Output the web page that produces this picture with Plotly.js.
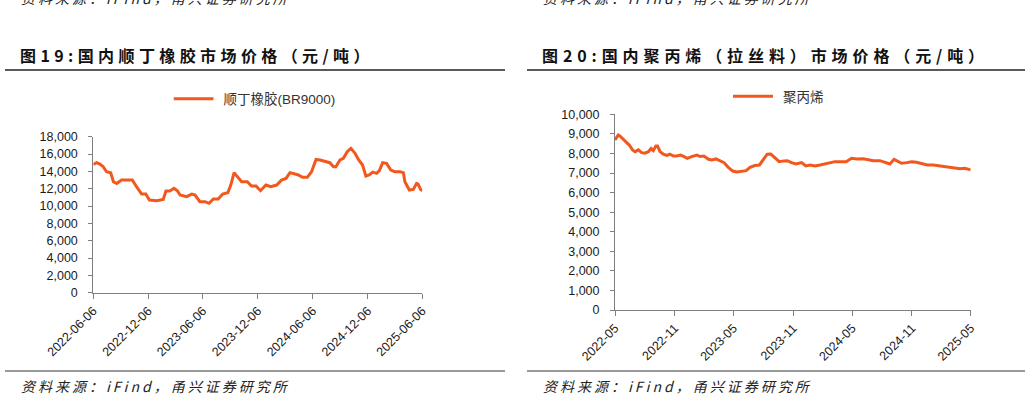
<!DOCTYPE html>
<html>
<head>
<meta charset="utf-8">
<script src="https://cdn.plot.ly/plotly-3.0.1.min.js"></script>
<style>html,body{margin:0;padding:0;background:#fff;}#chart{width:1032px;height:399px;}</style>
</head>
<body>
<div id="chart"></div>
<script>
// ---- Data: 国内顺丁橡胶市场价格 (BR9000), 元/吨 ----
const brDates = ['2022-06-06','2022-06-17','2022-06-28','2022-07-09','2022-07-20','2022-08-03','2022-08-12','2022-08-23','2022-09-08','2022-09-25','2022-10-14','2022-10-28','2022-11-14','2022-11-28','2022-12-10','2023-01-03','2023-01-25','2023-02-03','2023-02-16','2023-03-02','2023-03-13','2023-03-22','2023-04-13','2023-04-30','2023-05-11','2023-05-27','2023-06-13','2023-06-27','2023-07-11','2023-07-27','2023-08-11','2023-08-28','2023-09-07','2023-09-18','2023-09-29','2023-10-13','2023-11-01','2023-11-15','2023-11-30','2023-12-15','2024-01-02','2024-01-18','2024-02-07','2024-02-23','2024-03-09','2024-03-22','2024-04-08','2024-04-19','2024-05-03','2024-05-19','2024-06-02','2024-06-17','2024-06-30','2024-07-17','2024-08-02','2024-08-14','2024-08-22','2024-09-05','2024-09-16','2024-09-29','2024-10-11','2024-10-25','2024-11-05','2024-11-19','2024-11-30','2024-12-11','2024-12-23','2025-01-05','2025-01-14','2025-01-25','2025-02-07','2025-02-21','2025-03-07','2025-03-24','2025-04-04','2025-04-09','2025-04-24','2025-05-07','2025-05-18','2025-05-23','2025-05-31','2025-06-06'];
const brValues = [14800,15000,14850,14540,13960,13850,12800,12600,13000,13000,13000,12230,11380,11380,10700,10620,10770,11730,11730,12040,11770,11270,11080,11380,11270,10500,10500,10310,10810,10810,11380,11540,12420,13850,13380,12800,12800,12310,12310,11770,12420,12230,12420,13000,13190,13850,13690,13580,13310,13310,13960,15380,15310,15150,15000,14540,14540,15310,15500,16270,16650,16080,15380,14730,13460,13580,13920,13770,14080,15000,14920,14150,13960,13960,13850,12800,11850,11920,12620,12540,11920,11770];
const brTickVals = ['2022-06-06','2022-12-06','2023-06-06','2023-12-06','2024-06-06','2024-12-06','2025-06-06'];
const brTickText = ['2022-06-06','2022-12-06','2023-06-06','2023-12-06','2024-06-06','2024-12-06','2025-06-06'];

// ---- Data: 国内聚丙烯（拉丝料）市场价格, 元/吨 ----
const ppDates = ['2022-05-01','2022-05-11','2022-05-16','2022-05-27','2022-06-06','2022-06-14','2022-06-24','2022-07-02','2022-07-12','2022-07-22','2022-08-01','2022-08-12','2022-08-20','2022-08-27','2022-09-04','2022-09-09','2022-09-17','2022-09-27','2022-10-07','2022-10-17','2022-10-28','2022-11-07','2022-11-19','2022-11-30','2022-12-10','2022-12-23','2023-01-08','2023-01-18','2023-01-30','2023-02-13','2023-02-23','2023-03-08','2023-03-21','2023-04-02','2023-04-15','2023-04-29','2023-05-11','2023-05-26','2023-06-09','2023-06-21','2023-07-06','2023-07-20','2023-08-01','2023-08-13','2023-08-24','2023-09-03','2023-09-19','2023-10-04','2023-10-14','2023-10-27','2023-11-10','2023-11-27','2023-12-10','2023-12-23','2024-01-07','2024-01-23','2024-02-07','2024-02-22','2024-03-09','2024-03-24','2024-04-12','2024-04-29','2024-05-15','2024-06-04','2024-06-20','2024-07-05','2024-07-25','2024-08-10','2024-08-25','2024-09-07','2024-09-15','2024-09-30','2024-10-16','2024-10-31','2024-11-15','2024-12-01','2024-12-18','2025-01-06','2025-01-26','2025-02-16','2025-03-08','2025-03-29','2025-04-13','2025-05-01'];
const ppValues = [8690,8940,8890,8690,8550,8430,8180,8090,8180,8040,8010,8090,8250,8140,8380,8380,8090,7960,7900,7960,7870,7870,7920,7840,7750,7840,7920,7840,7870,7700,7670,7720,7630,7530,7290,7100,7050,7070,7120,7290,7380,7410,7670,7960,7970,7800,7580,7620,7630,7530,7460,7530,7360,7410,7360,7410,7460,7530,7580,7580,7580,7750,7720,7730,7670,7630,7630,7530,7460,7700,7630,7500,7530,7580,7550,7500,7410,7410,7360,7330,7290,7220,7240,7160];
const ppTickVals = ['2022-05-01','2022-11-01','2023-05-01','2023-11-01','2024-05-01','2024-11-01','2025-05-01'];
const ppTickText = ['2022-05','2022-11','2023-05','2023-11','2024-05','2024-11','2025-05'];

// ---- Texts ----
const title1 = '图19:国内顺丁橡胶市场价格（元/吨）';
const title2 = '图20:国内聚丙烯（拉丝料）市场价格（元/吨）';
const name1 = '顺丁橡胶(BR9000)';
const name2 = '聚丙烯';
const sourceText = '资料来源：iFind，甬兴证券研究所';

const W = 1032, H = 399;
const px = v => v / W;
const py = v => 1 - v / H;
const lineColor = '#F2581D';
const axisColor = '#7f7f7f';
const tickFont = {family: 'Liberation Sans, Arial, sans-serif', size: 12.5, color: '#1a1a1a'};
const cjkFont = 'Noto Sans CJK SC, sans-serif';

const traces = [
  {x: brDates, y: brValues, type: 'scatter', mode: 'lines', name: name1,
   line: {color: lineColor, width: 3}, xaxis: 'x', yaxis: 'y', legend: 'legend'},
  {x: ppDates, y: ppValues, type: 'scatter', mode: 'lines', name: name2,
   line: {color: lineColor, width: 3}, xaxis: 'x2', yaxis: 'y2', legend: 'legend2'}
];

const xCommon = {type: 'date', showgrid: false, zeroline: false, showline: true, linecolor: axisColor, linewidth: 1,
  ticks: 'outside', ticklen: 5, tickcolor: axisColor, tickangle: -45, tickfont: tickFont, tickmode: 'array'};
const yCommon = {showgrid: false, zeroline: false, showline: true, linecolor: axisColor, linewidth: 1,
  ticks: 'outside', ticklen: 4, tickcolor: axisColor, tickfont: tickFont, tickformat: ',d', ticklabelstandoff: 8};

const legendFont = {family: 'Liberation Sans, Noto Sans CJK SC, sans-serif', size: 13.5, color: '#333'};

const layout = {
  width: W, height: H,
  margin: {l: 0, r: 0, t: 0, b: 0},
  paper_bgcolor: '#fff', plot_bgcolor: '#fff',
  showlegend: true,
  xaxis: Object.assign({}, xCommon, {domain: [px(93.3), px(422.3)], range: ['2022-06-06', '2025-06-06'],
    tickvals: brTickVals, ticktext: brTickText, anchor: 'y'}),
  yaxis: Object.assign({}, yCommon, {domain: [py(292.7), py(136.7)], range: [0, 18000], dtick: 2000, anchor: 'x'}),
  xaxis2: Object.assign({}, xCommon, {domain: [px(615), px(970.7)], range: ['2022-05-01', '2025-05-01'],
    tickvals: ppTickVals, ticktext: ppTickText, anchor: 'y2'}),
  yaxis2: Object.assign({}, yCommon, {domain: [py(310), py(114.3)], range: [0, 10000], dtick: 1000, anchor: 'x2'}),
  legend: {x: px(257), y: py(99), xanchor: 'center', yanchor: 'middle', orientation: 'h', bgcolor: 'rgba(0,0,0,0)',
    itemwidth: 40, font: legendFont},
  legend2: {x: px(781), y: py(96.5), xanchor: 'center', yanchor: 'middle', orientation: 'h', bgcolor: 'rgba(0,0,0,0)',
    itemwidth: 40, font: legendFont},
  annotations: [
    {text: '<b>' + title1 + '</b>', xref: 'paper', yref: 'paper', x: px(18), y: py(55), xanchor: 'left', yanchor: 'middle',
     showarrow: false, font: {family: cjkFont, size: 16, color: '#111'}},
    {text: '<b>' + title2 + '</b>', xref: 'paper', yref: 'paper', x: px(540), y: py(55), xanchor: 'left', yanchor: 'middle',
     showarrow: false, font: {family: cjkFont, size: 16, color: '#111'}},
    {text: '<i>' + sourceText + '</i>', xref: 'paper', yref: 'paper', x: px(19), y: py(386), xanchor: 'left', yanchor: 'middle',
     showarrow: false, font: {family: cjkFont, size: 14, color: '#222'}},
    {text: '<i>' + sourceText + '</i>', xref: 'paper', yref: 'paper', x: px(541), y: py(386), xanchor: 'left', yanchor: 'middle',
     showarrow: false, font: {family: cjkFont, size: 14, color: '#222'}},
    {text: '<i>' + sourceText + '</i>', xref: 'paper', yref: 'paper', x: px(19), y: py(-2), xanchor: 'left', yanchor: 'middle',
     showarrow: false, font: {family: cjkFont, size: 14, color: '#222'}},
    {text: '<i>' + sourceText + '</i>', xref: 'paper', yref: 'paper', x: px(541), y: py(-2), xanchor: 'left', yanchor: 'middle',
     showarrow: false, font: {family: cjkFont, size: 14, color: '#222'}}
  ],
  shapes: [
    {type: 'line', xref: 'paper', yref: 'paper', x0: px(5), x1: px(505), y0: py(70), y1: py(70), line: {color: '#222', width: 1.5}},
    {type: 'line', xref: 'paper', yref: 'paper', x0: px(527), x1: px(1025), y0: py(70), y1: py(70), line: {color: '#222', width: 1.5}},
    {type: 'line', xref: 'paper', yref: 'paper', x0: px(5), x1: px(505), y0: py(371), y1: py(371), line: {color: '#777', width: 1.5}},
    {type: 'line', xref: 'paper', yref: 'paper', x0: px(527), x1: px(1025), y0: py(371), y1: py(371), line: {color: '#777', width: 1.5}}
  ]
};

Plotly.newPlot('chart', traces, layout, {displayModeBar: false, staticPlot: true}).then(gd => {
  // widen character spacing to match the report typography, keeping the left edge fixed
  gd.querySelectorAll('g.annotation').forEach(g => {
    const idx = +g.getAttribute('data-index');
    const t = g.querySelector('text');
    if (!t) return;
    const before = t.getBBox();
    t.style.letterSpacing = idx === 0 ? '4.4px' : (idx === 1 ? '4.9px' : '3px');
    const after = t.getBBox();
    const x0 = parseFloat(t.getAttribute('x') || '0');
    t.setAttribute('x', x0 + (before.x - after.x));
  });
  gd.querySelectorAll('.legendlines path').forEach(p => { p.setAttribute('d', 'M0,0h40'); });
});
</script>
</body>
</html>
